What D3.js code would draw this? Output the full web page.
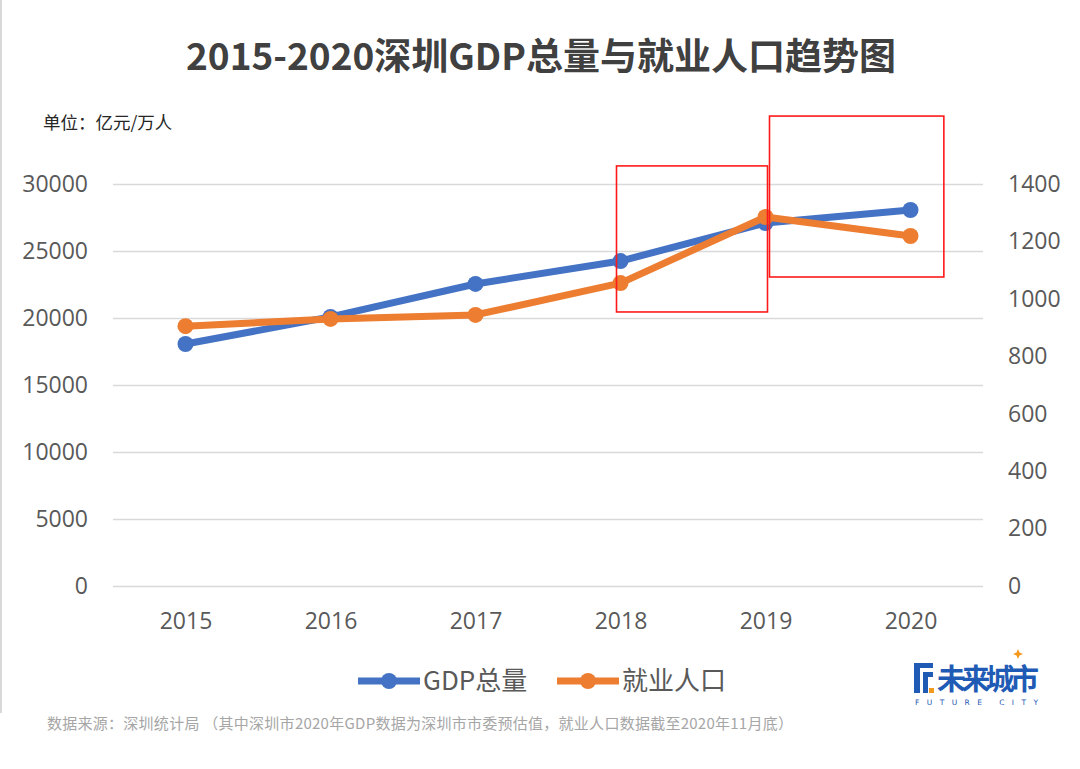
<!DOCTYPE html>
<html>
<head>
<meta charset="utf-8">
<script src="https://cdn.jsdelivr.net/npm/d3@7"></script>
<style>
  body { margin: 0; background: #fff; }
  svg { display: block; }
</style>
</head>
<body>
<svg id="chart" width="1080" height="769"></svg>
<script>
const years = ['2015', '2016', '2017', '2018', '2019', '2020'];
const gdp = [18060, 20080, 22540, 24250, 27090, 28060];
const jobs = [905, 930, 944, 1055, 1285, 1219];
const leftTicks = [0, 5000, 10000, 15000, 20000, 25000, 30000];
const rightTicks = [0, 200, 400, 600, 800, 1000, 1200, 1400];
const seriesNames = ['GDP总量', '就业人口'];

const width = 1080;
const height = 769;
const plot = { left: 113, right: 983, top: 184, bottom: 586 };
const numFont = '"Open Sans", "Noto Sans CJK SC", sans-serif';
const cjkFont = '"Noto Sans CJK SC", "Noto Sans", sans-serif';
const blue = '#4472c4';
const orange = '#ed7d31';

const svg = d3.select('#chart');

const x = d3.scalePoint().domain(years).range([plot.left, plot.right]).padding(0.5);
const yLeft = d3.scaleLinear().domain([0, 30000]).range([plot.bottom, plot.top]);
const yRight = d3.scaleLinear().domain([0, 1400]).range([plot.bottom, plot.top]);

// faint page edge on the left
svg.append('line')
  .attr('x1', 1).attr('x2', 1).attr('y1', 0).attr('y2', 713)
  .attr('stroke', '#d9d9d9').attr('stroke-width', 2);

// title
svg.append('text')
  .attr('x', width / 2 + 1).attr('y', 70)
  .attr('text-anchor', 'middle')
  .attr('font-family', cjkFont).attr('font-weight', 'bold')
  .attr('font-size', 37).attr('fill', '#404040')
  .text('2015-2020深圳GDP总量与就业人口趋势图');

svg.append('text')
  .attr('x', 43).attr('y', 129)
  .attr('font-family', cjkFont).attr('font-size', 17.5).attr('fill', '#262626')
  .text('单位：亿元/万人');

// gridlines + left axis
const gLeft = svg.append('g').attr('transform', `translate(${plot.left},0)`)
  .call(d3.axisLeft(yLeft).tickValues(leftTicks).tickSize(-(plot.right - plot.left)).tickPadding(25).tickFormat(d3.format('d')));
gLeft.select('.domain').remove();
gLeft.selectAll('.tick line').attr('stroke', '#d9d9d9').attr('stroke-width', 1.5);
gLeft.selectAll('.tick text')
  .attr('font-family', numFont).attr('font-size', 23).attr('fill', '#595959');

// right axis
const gRight = svg.append('g').attr('transform', `translate(${plot.right},0)`)
  .call(d3.axisRight(yRight).tickValues(rightTicks).tickSize(0).tickPadding(25).tickFormat(d3.format('d')));
gRight.select('.domain').remove();
gRight.selectAll('.tick text')
  .attr('font-family', numFont).attr('font-size', 23).attr('fill', '#595959');

// x axis
const gX = svg.append('g').attr('transform', `translate(0,${plot.bottom})`)
  .call(d3.axisBottom(x).tickSize(0).tickPadding(27));
gX.select('.domain').remove();
gX.selectAll('.tick text')
  .attr('font-family', numFont).attr('font-size', 23).attr('fill', '#595959');

// lines
const gdpLine = d3.line().x((d, i) => x(years[i])).y(d => yLeft(d));
const jobLine = d3.line().x((d, i) => x(years[i])).y(d => yRight(d));

svg.append('path').datum(gdp)
  .attr('d', gdpLine).attr('fill', 'none')
  .attr('stroke', blue).attr('stroke-width', 7).attr('stroke-linejoin', 'round');
svg.selectAll('.gdp-dot').data(gdp).enter().append('circle')
  .attr('class', 'gdp-dot')
  .attr('cx', (d, i) => x(years[i])).attr('cy', d => yLeft(d))
  .attr('r', 8).attr('fill', blue);

svg.append('path').datum(jobs)
  .attr('d', jobLine).attr('fill', 'none')
  .attr('stroke', orange).attr('stroke-width', 7).attr('stroke-linejoin', 'round');
svg.selectAll('.job-dot').data(jobs).enter().append('circle')
  .attr('class', 'job-dot')
  .attr('cx', (d, i) => x(years[i])).attr('cy', d => yRight(d))
  .attr('r', 8).attr('fill', orange);

// red highlight boxes
const step = x.step();
const boxes = [
  { x0: x('2018') - 4, x1: x('2019') + 2, y0: yLeft(31350), y1: yLeft(20450) },
  { x0: x('2019') + 4, x1: x('2020') + step * 0.23, y0: yLeft(35070), y1: yLeft(23060) },
];
svg.selectAll('.hl').data(boxes).enter().append('rect')
  .attr('class', 'hl')
  .attr('x', d => d.x0).attr('y', d => d.y0)
  .attr('width', d => d.x1 - d.x0).attr('height', d => d.y1 - d.y0)
  .attr('fill', 'none').attr('stroke', '#ff1a1a').attr('stroke-width', 1.6);

// legend
const legend = svg.append('g').attr('transform', 'translate(0,681)');
const legendItems = [
  { name: seriesNames[0], color: blue, x: 358 },
  { name: seriesNames[1], color: orange, x: 557 },
];
legendItems.forEach(it => {
  legend.append('line')
    .attr('x1', it.x).attr('x2', it.x + 62).attr('y1', 0).attr('y2', 0)
    .attr('stroke', it.color).attr('stroke-width', 7);
  legend.append('circle').attr('cx', it.x + 31).attr('cy', 0).attr('r', 8).attr('fill', it.color);
  legend.append('text')
    .attr('x', it.x + 65).attr('y', 0).attr('dy', '0.36em')
    .attr('font-family', cjkFont).attr('font-size', 26).attr('fill', '#595959')
    .text(it.name);
});

// logo
const logo = svg.append('g').attr('transform', 'translate(914,663)');
logo.append('path')
  .attr('d', 'M0,0 H19 V5 H6 V30 H0 Z')
  .attr('fill', '#1f5bb5');
logo.append('path')
  .attr('d', 'M9,9 H19 V14 H14 V30 H9 Z')
  .attr('fill', '#1f5bb5');
logo.append('rect').attr('x', 15).attr('y', 25).attr('width', 5).attr('height', 5).attr('fill', '#f39a1e');
logo.append('text')
  .attr('x', 23).attr('y', 27)
  .attr('font-family', cjkFont).attr('font-weight', 'bold')
  .attr('font-size', 29).attr('fill', '#1f5bb5')
  .attr('textLength', 102)
  .text('未来城市');
logo.append('text')
  .attr('x', 1).attr('y', 42)
  .attr('font-family', '"DejaVu Sans", sans-serif')
  .attr('font-size', 7.5).attr('fill', '#1f5bb5')
  .attr('textLength', 123)
  .text('FUTURE CITY');
logo.append('path')
  .attr('d', 'M104,-14 L105.5,-10.5 L109,-9 L105.5,-7.5 L104,-4 L102.5,-7.5 L99,-9 L102.5,-10.5 Z')
  .attr('fill', '#f39a1e');

// source note
svg.append('text')
  .attr('x', 47).attr('y', 729)
  .attr('font-family', cjkFont).attr('font-size', 15).attr('fill', '#a6a6a6')
  .attr('textLength', 746)
  .text('数据来源：深圳统计局 （其中深圳市2020年GDP数据为深圳市市委预估值，就业人口数据截至2020年11月底）');
</script>
</body>
</html>
